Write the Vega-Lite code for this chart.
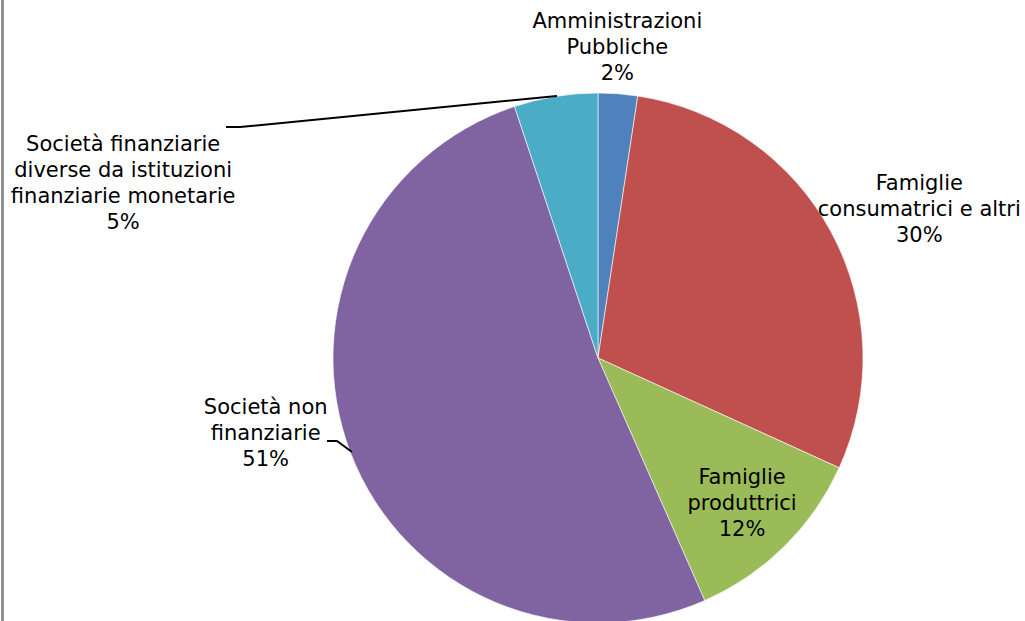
{
  "$schema": "https://vega.github.io/schema/vega-lite/v6.json",
  "width": 530,
  "height": 526,
  "autosize": "none",
  "padding": {"left": 333, "top": 95, "right": 162, "bottom": 0},
  "background": "white",
  "config": {"view": {"stroke": null}},
  "data": {
    "values": [
      {"idx": 1, "sector": "Amministrazioni Pubbliche", "share": 2.4, "label": "Amministrazioni\nPubbliche\n2%"},
      {"idx": 2, "sector": "Famiglie consumatrici e altri", "share": 29.4, "label": "Famiglie\nconsumatrici e altri\n30%"},
      {"idx": 3, "sector": "Famiglie produttrici", "share": 11.6, "label": "Famiglie\nproduttrici\n12%"},
      {"idx": 4, "sector": "Società non finanziarie", "share": 51.5, "label": "Società non\nfinanziarie\n51%"},
      {"idx": 5, "sector": "Società finanziarie diverse da istituzioni finanziarie monetarie", "share": 5.1, "label": "Società finanziarie\ndiverse da istituzioni\nfinanziarie monetarie\n5%"}
    ]
  },
  "layer": [
    {
      "mark": {"type": "arc", "outerRadius": 265, "stroke": "white", "strokeWidth": 0.6},
      "encoding": {
        "theta": {"field": "share", "type": "quantitative", "stack": true},
        "order": {"field": "idx", "type": "quantitative"},
        "color": {
          "field": "sector", "type": "nominal", "legend": null,
          "scale": {
            "domain": ["Amministrazioni Pubbliche", "Famiglie consumatrici e altri", "Famiglie produttrici", "Società non finanziarie", "Società finanziarie diverse da istituzioni finanziarie monetarie"],
            "range": ["#4F81BD", "#C0504D", "#9BBB59", "#8064A2", "#4BACC6"]
          }
        }
      }
    },
    {
      "mark": {"type": "text", "radius": 310, "dx": -4, "dy": -27, "lineBreak": "\n", "lineHeight": 26, "fontSize": 21, "align": "center", "baseline": "middle", "font": "DejaVu Sans", "color": "black"},
      "encoding": {
        "theta": {"field": "share", "type": "quantitative", "stack": true},
        "order": {"field": "idx", "type": "quantitative"},
        "detail": {"field": "sector", "type": "nominal"},
        "text": {"condition": {"test": "datum.idx === 1", "field": "label", "type": "nominal"}, "value": ""}
      }
    },
    {
      "mark": {"type": "text", "radius": 354, "dx": 10, "dy": -5, "lineBreak": "\n", "lineHeight": 26, "fontSize": 21, "align": "center", "baseline": "middle", "font": "DejaVu Sans", "color": "black"},
      "encoding": {
        "theta": {"field": "share", "type": "quantitative", "stack": true},
        "order": {"field": "idx", "type": "quantitative"},
        "detail": {"field": "sector", "type": "nominal"},
        "text": {"condition": {"test": "datum.idx === 2", "field": "label", "type": "nominal"}, "value": ""}
      }
    },
    {
      "mark": {"type": "text", "radius": 205, "dx": 0, "dy": -26, "lineBreak": "\n", "lineHeight": 26, "fontSize": 21, "align": "center", "baseline": "middle", "font": "DejaVu Sans", "color": "black"},
      "encoding": {
        "theta": {"field": "share", "type": "quantitative", "stack": true},
        "order": {"field": "idx", "type": "quantitative"},
        "detail": {"field": "sector", "type": "nominal"},
        "text": {"condition": {"test": "datum.idx === 3", "field": "label", "type": "nominal"}, "value": ""}
      }
    },
    {
      "mark": {"type": "text", "radius": 340, "dx": -15, "dy": -72, "lineBreak": "\n", "lineHeight": 26, "fontSize": 21, "align": "center", "baseline": "middle", "font": "DejaVu Sans", "color": "black"},
      "encoding": {
        "theta": {"field": "share", "type": "quantitative", "stack": true},
        "order": {"field": "idx", "type": "quantitative"},
        "detail": {"field": "sector", "type": "nominal"},
        "text": {"condition": {"test": "datum.idx === 4", "field": "label", "type": "nominal"}, "value": ""}
      }
    },
    {
      "mark": {"type": "text", "radius": 300, "dx": -427, "dy": 83, "lineBreak": "\n", "lineHeight": 26, "fontSize": 21, "align": "center", "baseline": "middle", "font": "DejaVu Sans", "color": "black"},
      "encoding": {
        "theta": {"field": "share", "type": "quantitative", "stack": true},
        "order": {"field": "idx", "type": "quantitative"},
        "detail": {"field": "sector", "type": "nominal"},
        "text": {"condition": {"test": "datum.idx === 5", "field": "label", "type": "nominal"}, "value": ""}
      }
    },
    {
      "transform": [{"filter": "datum.idx === 5"}],
      "mark": {"type": "point", "shape": "M-0.41,-2.62L-3.58,-2.31L-3.72,-2.31", "size": 40000, "filled": false, "stroke": "black", "strokeWidth": 2, "opacity": 1},
      "encoding": {}
    },
    {
      "transform": [{"filter": "datum.idx === 4"}],
      "mark": {"type": "point", "shape": "M-2.46,0.94L-2.61,0.83L-2.71,0.83", "size": 40000, "filled": false, "stroke": "black", "strokeWidth": 2, "opacity": 1},
      "encoding": {}
    },
    {
      "transform": [{"filter": "datum.idx === 1"}],
      "mark": {"type": "point", "shape": "M-5.955,-3.7L-5.955,2.7", "size": 40000, "filled": false, "stroke": "#8c8c8c", "strokeWidth": 2.8, "opacity": 1},
      "encoding": {}
    }
  ]
}
